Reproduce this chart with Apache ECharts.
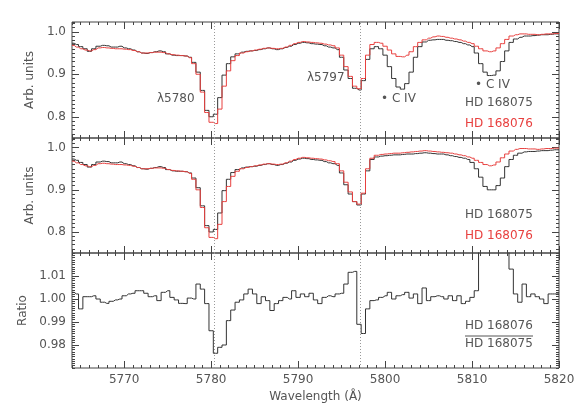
<!DOCTYPE html>
<html>
<head>
<meta charset="utf-8">
<script src="https://cdn.jsdelivr.net/npm/echarts@6/dist/echarts.min.js"></script>
<style>
html, body { margin: 0; padding: 0; background: #fff; }
#chart { width: 581px; height: 415px; }
</style>
</head>
<body>
<div id="chart"></div>
<script>
// wavelength grid (Angstrom), 0.5 A bins
var wavelength = [
  5764.0, 5764.5, 5765.0, 5765.5, 5766.0, 5766.5, 5767.0, 5767.5, 5768.0, 5768.5,
  5769.0, 5769.5, 5770.0, 5770.5, 5771.0, 5771.5, 5772.0, 5772.5, 5773.0, 5773.5,
  5774.0, 5774.5, 5775.0, 5775.5, 5776.0, 5776.5, 5777.0, 5777.5, 5778.0, 5778.5,
  5779.0, 5779.5, 5780.0, 5780.5, 5781.0, 5781.5, 5782.0, 5782.5, 5783.0, 5783.5,
  5784.0, 5784.5, 5785.0, 5785.5, 5786.0, 5786.5, 5787.0, 5787.5, 5788.0, 5788.5,
  5789.0, 5789.5, 5790.0, 5790.5, 5791.0, 5791.5, 5792.0, 5792.5, 5793.0, 5793.5,
  5794.0, 5794.5, 5795.0, 5795.5, 5796.0, 5796.5, 5797.0, 5797.5, 5798.0, 5798.5,
  5799.0, 5799.5, 5800.0, 5800.5, 5801.0, 5801.5, 5802.0, 5802.5, 5803.0, 5803.5,
  5804.0, 5804.5, 5805.0, 5805.5, 5806.0, 5806.5, 5807.0, 5807.5, 5808.0, 5808.5,
  5809.0, 5809.5, 5810.0, 5810.5, 5811.0, 5811.5, 5812.0, 5812.5, 5813.0, 5813.5,
  5814.0, 5814.5, 5815.0, 5815.5, 5816.0, 5816.5, 5817.0, 5817.5, 5818.0, 5818.5,
  5819.0, 5819.5, 5820.0
];

// top panel: observed spectra
var hd168075Obs = [
  0.973, 0.970, 0.965, 0.960, 0.954, 0.960, 0.966, 0.968, 0.967, 0.964,
  0.964, 0.966, 0.962, 0.960, 0.957, 0.953, 0.950, 0.949, 0.951, 0.953,
  0.955, 0.953, 0.948, 0.945, 0.944, 0.944, 0.943, 0.940, 0.928, 0.905,
  0.862, 0.815, 0.800, 0.806, 0.845, 0.898, 0.925, 0.941, 0.948, 0.952,
  0.954, 0.955, 0.956, 0.958, 0.960, 0.962, 0.960, 0.958, 0.960, 0.963,
  0.966, 0.970, 0.973, 0.975, 0.974, 0.972, 0.971, 0.970, 0.967, 0.964,
  0.962, 0.958, 0.940, 0.910, 0.890, 0.867, 0.863, 0.885, 0.935, 0.960,
  0.965, 0.960, 0.945, 0.918, 0.890, 0.870, 0.865, 0.878, 0.905, 0.940,
  0.965, 0.976, 0.980, 0.981, 0.982, 0.982, 0.980, 0.979, 0.977, 0.975,
  0.972, 0.969, 0.965, 0.950, 0.925, 0.905, 0.897, 0.898, 0.908, 0.930,
  0.955, 0.975, 0.983, 0.987, 0.990, 0.990, 0.991, 0.992, 0.993, 0.993,
  0.994, 0.995, 0.995
];
var hd168076Obs = [
  0.968, 0.964, 0.960, 0.957, 0.955, 0.958, 0.962, 0.963, 0.962, 0.961,
  0.960, 0.960, 0.959, 0.958, 0.956, 0.953, 0.950, 0.950, 0.951, 0.952,
  0.952, 0.951, 0.948, 0.946, 0.945, 0.944, 0.943, 0.939, 0.925, 0.900,
  0.858, 0.810, 0.787, 0.784, 0.818, 0.872, 0.908, 0.932, 0.944, 0.950,
  0.953, 0.955, 0.957, 0.959, 0.961, 0.962, 0.961, 0.960, 0.961, 0.964,
  0.968, 0.972, 0.975, 0.977, 0.976, 0.975, 0.974, 0.973, 0.971, 0.969,
  0.967, 0.962, 0.945, 0.918, 0.895, 0.872, 0.866, 0.890, 0.945, 0.970,
  0.975, 0.973, 0.966, 0.957, 0.948, 0.942, 0.941, 0.945, 0.953, 0.965,
  0.975, 0.981, 0.985, 0.988, 0.990, 0.989, 0.987, 0.985, 0.983, 0.981,
  0.978, 0.975, 0.972, 0.966, 0.960, 0.955, 0.953, 0.955, 0.962, 0.972,
  0.982, 0.990, 0.993, 0.995, 0.995, 0.994, 0.994, 0.993, 0.994, 0.995,
  0.995, 0.996, 0.996
];

// middle panel: C IV removed
var hd168075Clean = [
  0.973, 0.970, 0.965, 0.960, 0.954, 0.960, 0.966, 0.968, 0.967, 0.964,
  0.964, 0.966, 0.962, 0.960, 0.957, 0.953, 0.950, 0.949, 0.951, 0.953,
  0.955, 0.953, 0.948, 0.945, 0.944, 0.944, 0.943, 0.940, 0.928, 0.905,
  0.862, 0.815, 0.800, 0.806, 0.845, 0.898, 0.925, 0.941, 0.948, 0.952,
  0.954, 0.955, 0.956, 0.958, 0.960, 0.962, 0.960, 0.958, 0.960, 0.963,
  0.966, 0.970, 0.973, 0.975, 0.974, 0.972, 0.971, 0.970, 0.967, 0.964,
  0.962, 0.958, 0.940, 0.912, 0.890, 0.872, 0.864, 0.890, 0.945, 0.972,
  0.978, 0.980, 0.981, 0.982, 0.983, 0.983, 0.984, 0.985, 0.985, 0.986,
  0.987, 0.988, 0.987, 0.986, 0.985, 0.985, 0.983, 0.981, 0.979, 0.977,
  0.975, 0.972, 0.965, 0.950, 0.930, 0.908, 0.900, 0.900, 0.910, 0.928,
  0.955, 0.972, 0.982, 0.987, 0.990, 0.991, 0.991, 0.992, 0.993, 0.993,
  0.994, 0.995, 0.995
];
var hd168076Clean = [
  0.968, 0.964, 0.960, 0.957, 0.955, 0.958, 0.962, 0.963, 0.962, 0.961,
  0.960, 0.960, 0.959, 0.958, 0.956, 0.953, 0.950, 0.950, 0.951, 0.952,
  0.952, 0.951, 0.948, 0.946, 0.945, 0.944, 0.943, 0.939, 0.925, 0.900,
  0.858, 0.810, 0.787, 0.784, 0.818, 0.872, 0.908, 0.932, 0.944, 0.950,
  0.953, 0.955, 0.957, 0.959, 0.961, 0.962, 0.961, 0.960, 0.961, 0.964,
  0.968, 0.972, 0.975, 0.977, 0.976, 0.975, 0.974, 0.973, 0.971, 0.969,
  0.967, 0.962, 0.945, 0.918, 0.895, 0.872, 0.866, 0.892, 0.950, 0.975,
  0.982, 0.984, 0.985, 0.986, 0.987, 0.987, 0.988, 0.989, 0.990, 0.991,
  0.992, 0.993, 0.992, 0.991, 0.990, 0.989, 0.988, 0.987, 0.985, 0.983,
  0.981, 0.978, 0.975, 0.970, 0.965, 0.960, 0.957, 0.959, 0.966, 0.976,
  0.985, 0.992, 0.996, 0.998, 0.998, 0.997, 0.997, 0.996, 0.997, 0.998,
  0.998, 0.999, 0.999
];

// bottom panel: HD 168076 / HD 168075
var ratio = [
  1.0029, 1.0022, 0.9957, 1.0010, 1.0010, 1.0014, 1.0000, 0.9986, 0.9981, 0.9990,
  0.9996, 1.0000, 1.0014, 1.0022, 1.0025, 1.0036, 1.0036, 1.0025, 1.0010, 1.0014,
  0.9993, 1.0029, 1.0036, 1.0007, 0.9996, 0.9981, 0.9980, 1.0004, 1.0000, 1.0065,
  1.0043, 0.9980, 0.9862, 0.9764, 0.9790, 0.9800, 0.9906, 0.9952, 0.9986, 0.9996,
  1.0022, 1.0043, 1.0022, 0.9980, 1.0010, 0.9993, 0.9950, 0.9980, 0.9993, 1.0007,
  1.0000, 1.0036, 1.0007, 1.0022, 1.0010, 1.0025, 0.9996, 0.9980, 1.0007, 1.0014,
  1.0010, 1.0022, 1.0025, 1.0065, 1.0116, 1.0120, 0.9890, 0.9850, 0.9957, 0.9993,
  0.9996, 1.0007, 1.0014, 1.0029, 1.0000, 1.0014, 1.0019, 1.0029, 1.0004, 1.0022,
  0.9980, 1.0048, 0.9993, 1.0010, 1.0014, 1.0010, 1.0000, 1.0014, 0.9993, 1.0014,
  0.9980, 0.9990, 1.0007, 1.0036, 1.0250, 1.0500, 1.0630, 1.0650, 1.0600, 1.0500,
  1.0300, 1.0130, 1.0022, 0.9986, 1.0065, 1.0010, 1.0022, 1.0010, 1.0000, 0.9980,
  1.0022, 1.0022, 1.0022
];

var dibCenters = [5780.4, 5797.1];
var xTicks = [5770, 5780, 5790, 5800, 5810, 5820];
var specTicks = [0.8, 0.9, 1.0];
var ratioTicks = [0.98, 0.99, 1.00, 1.01];

var XMIN = 5764, XMAX = 5820;
var BLACK = '#333', RED = '#e8403f', TXT = '#555';
var FONT = 'DejaVu Sans';

var panels = [
  { top: 22,  height: 116, min: 0.75, max: 1.023, ticks: specTicks,  minor: 0.01,  digits: 1, name: 'Arb. units', gap: 20 },
  { top: 138, height: 115, min: 0.75, max: 1.023, ticks: specTicks,  minor: 0.01,  digits: 1, name: 'Arb. units', gap: 20 },
  { top: 253, height: 115, min: 0.97, max: 1.02,  ticks: ratioTicks, minor: 0.001, digits: 2, name: 'Ratio',      gap: 34 }
];

function pairs(ys) {
  return wavelength.map(function (w, i) { return [w, ys[i]]; });
}

var grids = [], xAxes = [], yAxes = [];
var tickStyle = { color: '#444', width: 1 };

panels.forEach(function (p, k) {
  var last = k === panels.length - 1;
  // main grid (carries the series) and an overlay grid for the minor ticks
  grids.push({ left: 72, width: 487, top: p.top, height: p.height, show: true,
               borderColor: '#444', borderWidth: 1, backgroundColor: 'transparent' });
  grids.push({ left: 72, width: 487, top: p.top, height: p.height });

  xAxes.push({
    type: 'value', gridIndex: 2 * k, min: XMIN, max: XMAX, position: 'bottom',
    axisLine: { show: false }, splitLine: { show: false },
    axisTick: { inside: true, length: 7, customValues: xTicks, lineStyle: tickStyle },
    axisLabel: { show: last, customValues: xTicks, margin: 6, color: TXT, fontFamily: FONT, fontSize: 12,
                 formatter: function (v) { return String(v); } },
    name: last ? 'Wavelength (\u00c5)' : '', nameLocation: 'middle', nameGap: 23,
    nameTextStyle: { color: TXT, fontFamily: FONT, fontSize: 12 }
  });
  xAxes.push({
    type: 'value', gridIndex: 2 * k, min: XMIN, max: XMAX, position: 'top',
    axisLine: { show: false }, splitLine: { show: false }, axisLabel: { show: false },
    axisTick: { inside: true, length: 7, customValues: xTicks, lineStyle: tickStyle }
  });
  ['bottom', 'top'].forEach(function (pos) {
    xAxes.push({
      type: 'value', gridIndex: 2 * k + 1, min: XMIN, max: XMAX, interval: 1, position: pos,
      axisLine: { show: false }, splitLine: { show: false }, axisLabel: { show: false },
      axisTick: { inside: true, length: 3, lineStyle: tickStyle }
    });
  });

  yAxes.push({
    type: 'value', gridIndex: 2 * k, min: p.min, max: p.max, position: 'left',
    axisLine: { show: false }, splitLine: { show: false },
    axisTick: { inside: true, length: 7, customValues: p.ticks, lineStyle: tickStyle },
    axisLabel: { customValues: p.ticks, margin: 6, color: TXT, fontFamily: FONT, fontSize: 12,
                 formatter: function (v) { return v.toFixed(p.digits); } },
    name: p.name, nameLocation: 'middle', nameGap: p.gap,
    nameTextStyle: { color: TXT, fontFamily: FONT, fontSize: 12 }
  });
  yAxes.push({
    type: 'value', gridIndex: 2 * k, min: p.min, max: p.max, position: 'right',
    axisLine: { show: false }, splitLine: { show: false }, axisLabel: { show: false },
    axisTick: { inside: true, length: 7, customValues: p.ticks, lineStyle: tickStyle }
  });
  ['left', 'right'].forEach(function (pos) {
    yAxes.push({
      type: 'value', gridIndex: 2 * k + 1, min: p.min, max: p.max, interval: p.minor, position: pos,
      axisLine: { show: false }, splitLine: { show: false }, axisLabel: { show: false },
      axisTick: { inside: true, length: 3, lineStyle: tickStyle }
    });
  });
});

function stepSeries(k, ys, color, withLines) {
  var s = {
    type: 'line', step: 'middle', xAxisIndex: 4 * k, yAxisIndex: 4 * k,
    data: pairs(ys), showSymbol: false, clip: true, silent: true,
    lineStyle: { color: color, width: 1 }
  };
  if (withLines) {
    s.markLine = {
      silent: true, symbol: ['none', 'none'], label: { show: false },
      lineStyle: { color: '#999', type: [1, 2], width: 1 },
      data: dibCenters.map(function (v) { return { xAxis: v }; })
    };
  }
  return s;
}

var series = [
  stepSeries(0, hd168075Obs, BLACK, true),
  stepSeries(0, hd168076Obs, RED, false),
  stepSeries(1, hd168075Clean, BLACK, true),
  stepSeries(1, hd168076Clean, RED, false),
  stepSeries(2, ratio, BLACK, true)
];

function label(text, left, top, color) {
  return { type: 'text', left: left, top: top, silent: true,
           style: { text: text, fill: color || TXT, font: '12px "DejaVu Sans"' } };
}

var graphics = [
  label('\u03bb5780', 157, 93),
  label('\u03bb5797', 307, 72),
  label('\u2022 C IV', 381, 93),
  label('\u2022 C IV', 475, 79),
  label('HD 168075', 465, 97),
  label('HD 168076', 465, 118, RED),
  label('HD 168075', 465, 209),
  label('HD 168076', 465, 230, RED),
  label('HD 168076', 465, 320),
  { type: 'line', silent: true, shape: { x1: 465, y1: 336, x2: 533, y2: 336 },
    style: { stroke: '#555', lineWidth: 1 } },
  label('HD 168075', 465, 338)
];

var chart = echarts.init(document.getElementById('chart'));
chart.setOption({
  animation: false,
  backgroundColor: '#fff',
  grid: grids,
  xAxis: xAxes,
  yAxis: yAxes,
  series: series,
  graphic: graphics
});
</script>
</body>
</html>
